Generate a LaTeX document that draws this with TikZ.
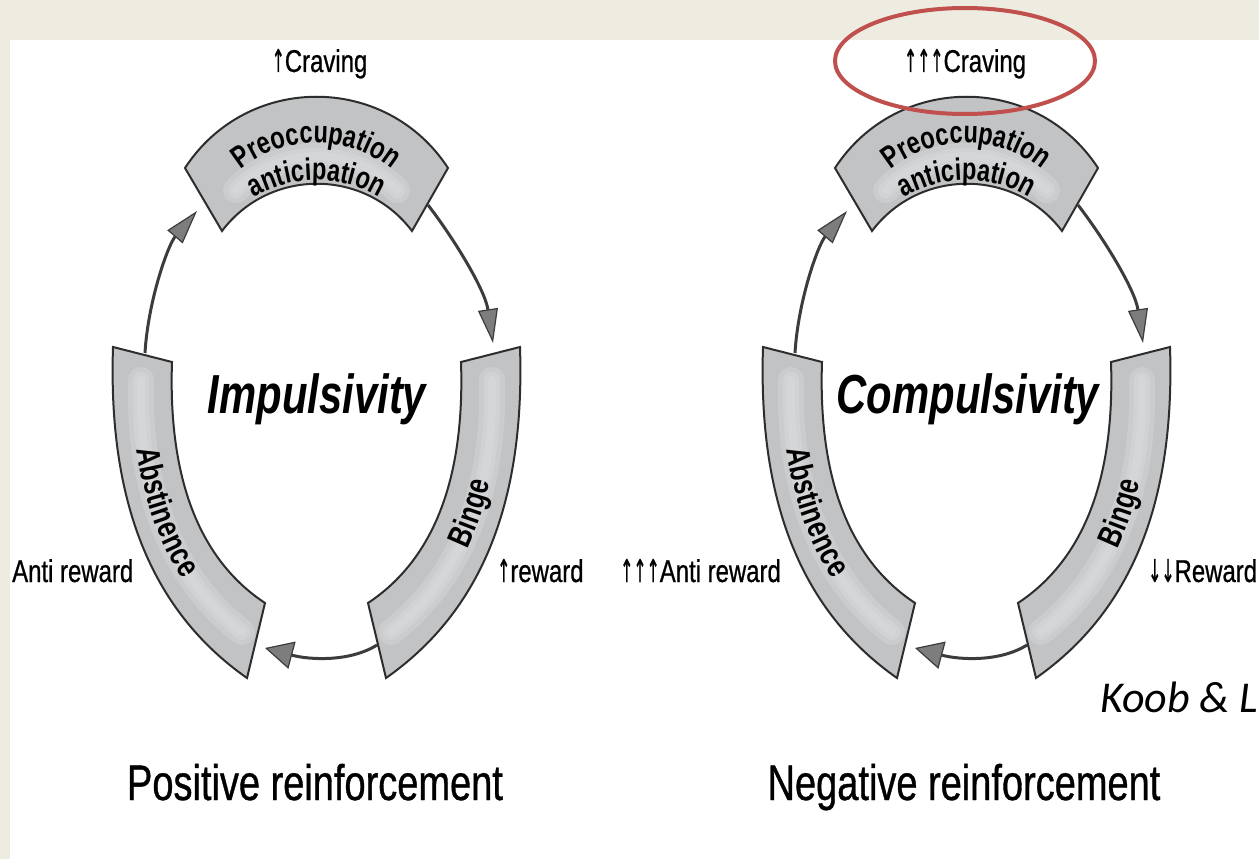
\documentclass[tikz,border=0pt]{standalone}
\usepackage{fontspec}
\setmainfont{Liberation Sans}
\newfontfamily\cond[FakeStretch=0.76]{Liberation Sans}
\newfontfamily\condm[FakeStretch=0.76,FakeBold=0.7]{Liberation Sans}
\newfontfamily\arrfont[FakeStretch=0.5,FakeBold=0.7]{DejaVu Sans}
\newfontfamily\calib{Carlito}
\usetikzlibrary{arrows.meta,decorations.text}
\definecolor{beige}{RGB}{238,236,225}
\definecolor{bandfill}{RGB}{194,195,197}
\definecolor{bandlight}{RGB}{222,223,225}
\definecolor{bandline}{RGB}{45,45,45}
\definecolor{arrline}{RGB}{60,60,60}
\definecolor{tipfill}{RGB}{125,125,125}
\definecolor{ovalred}{RGB}{192,80,77}
\newcommand\topfont{\cond\bfseries\fontsize{31}{31}\selectfont}
\newcommand\sidefont{\cond\bfseries\fontsize{33}{33}\selectfont}
\newcommand\up{{\arrfont ↑}}
\newcommand\dn{{\arrfont ↓}}
\tikzset{
  band/.style={fill=bandfill, draw=bandline, line width=2pt, line join=miter},
  streak/.style={bandlight, line cap=round, opacity=0.35},
  cyc/.style={draw=arrline, line width=3pt, -{Triangle[length=34pt,width=20pt,fill=tipfill,line width=1.2pt]}},
  cycbig/.style={draw=arrline, line width=3pt, -{Triangle[length=28pt,width=28pt,fill=tipfill,line width=1.2pt]}},
  lbl/.style={font=\condm\fontsize{31.5}{31.5}\selectfont, inner sep=0pt, text=black},
  big/.style={font=\cond\bfseries\itshape\fontsize{55}{55}\selectfont, inner sep=0pt},
  bottom/.style={font=\condm\fontsize{50}{50}\selectfont, inner sep=0pt},
}
\newcommand\cyclebands[1]{%
  % top band
  \draw[band] (185,168) .. controls (247,73) and (386,73) .. (448,168) -- (412,231) .. controls (364.5,168) and (269.5,168) .. (222,231) -- cycle;
  % left band
  \draw[band] (113,347) -- (172,362) .. controls (168,480) and (200,560) .. (265,603) -- (247,678) .. controls (150,610) and (108,500) .. (113,347) -- cycle;
  % right band
  \draw[band] (520,347) -- (461,362) .. controls (465,480) and (433,560) .. (368,603) -- (386,678) .. controls (483,610) and (525,500) .. (520,347) -- cycle;
  % soft light middle of the bands
  \foreach \w in {26,16,8}{
    \draw[streak, line width=\w pt] plot[domain=224:316, samples=40] ({316.5+112*cos(\x)},{268+112*sin(\x)});
    \draw[streak, line width=\w pt] (141,380) .. controls (138,490) and (172,578) .. (242,632);
    \draw[streak, line width=\w pt] (492,380) .. controls (495,490) and (461,578) .. (391,632);
  }
  % texts on bands
  \path[decorate, decoration={text along path, text={|\topfont|Preoccupation}, text align=center}]
    plot[domain=215:325, samples=60] ({316.5+122*cos(\x)},{265+122*sin(\x)});
  \path[decorate, decoration={text along path, text={|\topfont|anticipation}, text align=center}]
    plot[domain=225:315, samples=60] ({316.5+123*cos(\x)},{303+123*sin(\x)});
  \path[decorate, decoration={text along path, text={|\sidefont|Abstinence}, text align=center, raise=-10pt}]
    (142.5,354.5) .. controls (138,490) and (175,585) .. (256,640);
  \path[decorate, decoration={text along path, text={|\sidefont|Binge}, text align=center, raise=-10pt}]
    (377,640) .. controls (458,585) and (495,490) .. (490.5,354.5);
  % connectors
  \coordinate (#1la) at (145,353); \coordinate (#1lb) at (197,211);
  \coordinate (#1ra) at (428,205); \coordinate (#1rb) at (493,343);
  \coordinate (#1ba) at (377,645); \coordinate (#1bb) at (265,648);
  \draw[cyc] (#1la) .. controls +(3,-52) and +(-29,34) .. (#1lb);
  \draw[cyc] (#1ra) .. controls +(27,35) and +(-8,-53) .. (#1rb);
  \draw[cycbig] (#1ba) .. controls +(-27,17) and +(45,12) .. (#1bb);
}
\begin{document}
\begin{tikzpicture}[x=1pt,y=-1pt]
\fill[beige] (0,0) rectangle (1259,859);
\fill[white] (10,40) rectangle (1259,859);
\useasboundingbox (0,0) rectangle (1259,859);

\begin{scope}
  \cyclebands{L}
\end{scope}
\begin{scope}[shift={(650,0)}]
  \cyclebands{R}
\end{scope}

\node[lbl, anchor=base] (crL) at (319.5,72) {\up Craving};
\node[lbl, anchor=base] (crR) at (965,72) {\up\up\up Craving};
\node[lbl, anchor=base west] (arL) at (12,582) {Anti reward};
\node[lbl, anchor=base west] (rwL) at (497,582) {\up reward};
\node[lbl, anchor=base west] (arR) at (620,582) {\up\up\up Anti reward};
\node[lbl, anchor=base west] (rwR) at (1148,582) {\dn\dn Reward};

\node[big, anchor=base] (imp) at (317,413) {Impulsivity};
\node[big, anchor=base] (comp) at (968,413) {Compulsivity};

\node[bottom, anchor=base] (pos) at (315,800) {Positive reinforcement};
\node[bottom, anchor=base] (neg) at (964,800) {Negative reinforcement};

\node[anchor=base west, font=\calib\itshape\fontsize{44}{44}\selectfont, inner sep=0pt] (koob) at (1100,712) {Koob \& L};

\draw[ovalred, line width=4pt] (965,61) ellipse [x radius=130, y radius=53];
\end{tikzpicture}
\end{document}
